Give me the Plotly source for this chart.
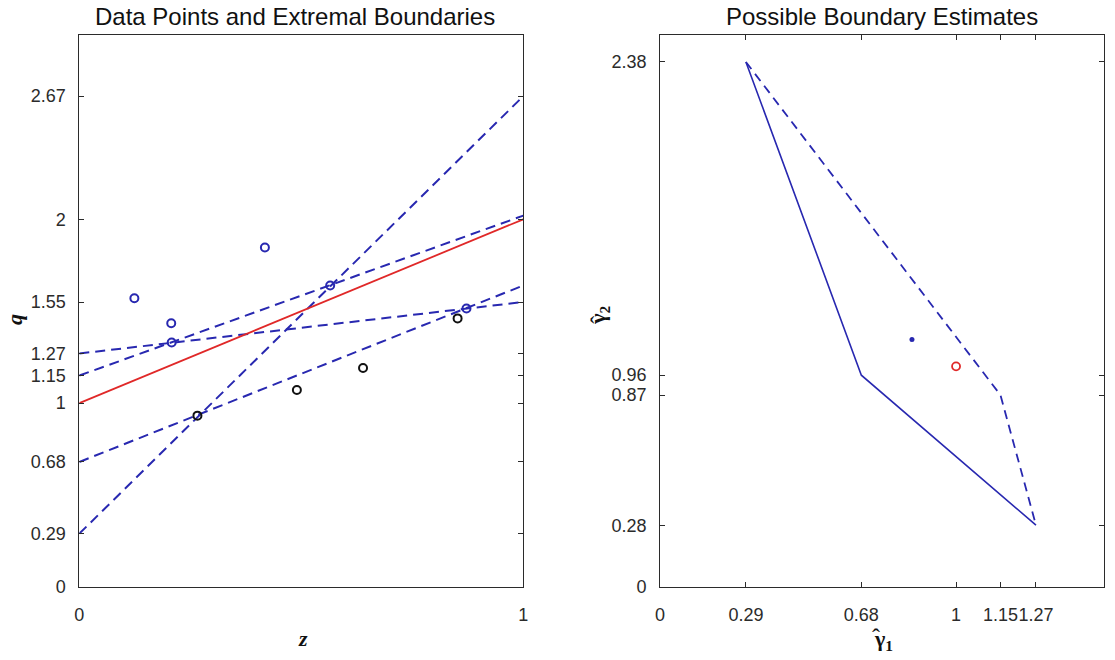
import plotly.graph_objects as go

# ---------------- data ----------------
# left panel: data points (z, q)
blue_z = [0.124, 0.207, 0.208, 0.418, 0.565, 0.872]
blue_q = [1.571, 1.435, 1.330, 1.847, 1.640, 1.515]
black_z = [0.266, 0.490, 0.639, 0.852]
black_q = [0.932, 1.071, 1.191, 1.461]

# extremal boundary lines q = a + b z
ext_intercepts = [0.29, 1.15, 1.27, 0.68]
ext_slopes = [2.38, 0.87, 0.28, 0.96]
# true boundary
true_intercept = 1.0
true_slope = 1.0
z_ends = [0, 1]

left_yticks = [0, 0.29, 0.68, 1, 1.15, 1.27, 1.55, 2, 2.67]
left_yticktext = ["0", "0.29", "0.68", "1", "1.15", "1.27", "1.55", "2", "2.67"]
left_xticks = [0, 1]
left_xticktext = ["0", "1"]

# right panel: possible boundary estimates (gamma1, gamma2)
dashed_g1 = [0.29, 1.15, 1.27]
dashed_g2 = [2.38, 0.87, 0.28]
solid_g1 = [0.29, 0.68, 1.27]
solid_g2 = [2.38, 0.96, 0.28]
est_g1 = [0.851]
est_g2 = [1.122]
true_g1 = [1.0]
true_g2 = [1.0]

right_xticks = [0, 0.29, 0.68, 1, 1.15, 1.27]
right_xticktext = ["0", "0.29", "0.68", "1", "1.15", "1.27"]
right_yticks = [0, 0.28, 0.87, 0.96, 2.38]
right_yticktext = ["0", "0.28", "0.87", "0.96", "2.38"]

# ---------------- styles ----------------
BLUE = "#2828b0"
RED = "#e02828"
AXC = "#2b2b2b"
W, H = 1115, 660

fig = go.Figure()

# extremal dashed lines
for a, b in zip(ext_intercepts, ext_slopes):
    fig.add_trace(go.Scatter(
        x=z_ends, y=[a + b * z for z in z_ends], mode="lines",
        line=dict(color=BLUE, width=2, dash="10px,6px"),
        xaxis="x", yaxis="y", showlegend=False, hoverinfo="skip"))

# true boundary
fig.add_trace(go.Scatter(
    x=z_ends, y=[true_intercept + true_slope * z for z in z_ends], mode="lines",
    line=dict(color=RED, width=1.8), xaxis="x", yaxis="y", showlegend=False))

fig.add_trace(go.Scatter(
    x=blue_z, y=blue_q, mode="markers",
    marker=dict(symbol="circle-open", size=8, color=BLUE, line=dict(width=2, color=BLUE)),
    xaxis="x", yaxis="y", showlegend=False))
fig.add_trace(go.Scatter(
    x=black_z, y=black_q, mode="markers",
    marker=dict(symbol="circle-open", size=8, color="#111111", line=dict(width=2, color="#111111")),
    xaxis="x", yaxis="y", showlegend=False))

# right panel
fig.add_trace(go.Scatter(
    x=dashed_g1, y=dashed_g2, mode="lines",
    line=dict(color=BLUE, width=1.8, dash="9px,6px"),
    xaxis="x2", yaxis="y2", showlegend=False))
fig.add_trace(go.Scatter(
    x=solid_g1, y=solid_g2, mode="lines",
    line=dict(color=BLUE, width=1.6),
    xaxis="x2", yaxis="y2", showlegend=False))
fig.add_trace(go.Scatter(
    x=est_g1, y=est_g2, mode="markers",
    marker=dict(symbol="circle", size=5, color=BLUE),
    xaxis="x2", yaxis="y2", showlegend=False))
fig.add_trace(go.Scatter(
    x=true_g1, y=true_g2, mode="markers",
    marker=dict(symbol="circle-open", size=8, color=RED, line=dict(width=1.8, color=RED)),
    xaxis="x2", yaxis="y2", showlegend=False))

tickfont = dict(family="Liberation Sans, Arial, sans-serif", size=18, color=AXC)
common = dict(showline=True, linecolor=AXC, linewidth=1, mirror="ticks",
              ticks="inside", ticklen=5, tickcolor=AXC, tickwidth=1,
              showgrid=False, zeroline=False, tickfont=tickfont, tickangle=0,
              tickmode="array", fixedrange=True)

fig.update_layout(
    width=W, height=H,
    margin=dict(l=0, r=0, t=0, b=0),
    paper_bgcolor="white", plot_bgcolor="white",
    xaxis=dict(domain=[75 / W, 523 / W], range=[0, 1], anchor="y",
               tickvals=left_xticks, ticktext=left_xticktext,
               ticklabelstandoff=11, **common),
    yaxis=dict(domain=[1 - 596 / H, 1 - 36 / H], range=[0, 3], anchor="x",
               tickvals=left_yticks, ticktext=left_yticktext,
               ticklabelstandoff=9, **common),
    xaxis2=dict(domain=[661 / W, 1109 / W], range=[0, 1.5], anchor="y2",
                tickvals=right_xticks, ticktext=right_xticktext,
                ticklabelstandoff=11, **common),
    yaxis2=dict(domain=[1 - 596 / H, 1 - 36 / H], range=[0, 2.5], anchor="x2",
                tickvals=right_yticks, ticktext=right_yticktext,
                ticklabelstandoff=9, **common),
)

titlefont = dict(family="Liberation Sans, Arial, sans-serif", size=24, color="#111111")
labfont = dict(family="Liberation Serif, Times New Roman, serif", size=22, color="#111111")
hatfont = dict(family="Liberation Serif, Times New Roman, serif", size=24, color="#111111")

annotations = [
    dict(text="Data Points and Extremal Boundaries", x=293 / W, y=1 - 17 / H,
         font=titlefont),
    dict(text="Possible Boundary Estimates", x=885 / W, y=1 - 17 / H,
         font=titlefont),
    dict(text="<b><i>z</i></b>", x=301 / W, y=1 - 648 / H, font=labfont),
    dict(text="<b><i>q</i></b>", x=9 / W, y=1 - 324 / H, font=labfont, textangle=-90),
    # gamma_1 label with a separate hat
    dict(text="<b>γ</b><sub><b>1</b></sub>", x=886 / W, y=1 - 650 / H, font=labfont),
    dict(text="ˆ", x=879 / W, y=1 - 647 / H, font=hatfont),
    # gamma_2 label (rotated) with a separate hat
    dict(text="<b>γ</b><sub><b>2</b></sub>", x=600 / W, y=1 - 320 / H, font=labfont,
         textangle=-90),
    dict(text="ˆ", x=599 / W, y=1 - 325 / H, font=hatfont, textangle=-90),
]
for a in annotations:
    a.update(xref="paper", yref="paper", showarrow=False, xanchor="center", yanchor="middle")
fig.update_layout(annotations=annotations)

fig.write_html("out.html")
